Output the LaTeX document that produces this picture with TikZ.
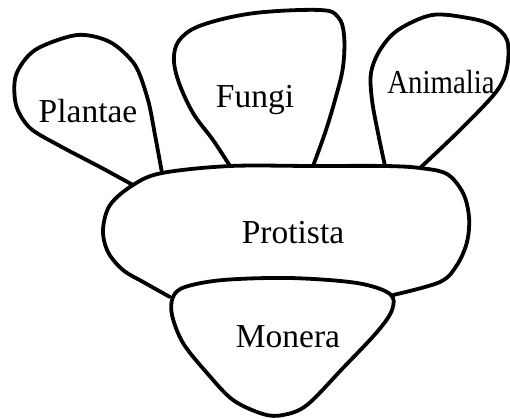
\documentclass[tikz,border=0pt]{standalone}
\usepackage{fontspec}
\setmainfont{Liberation Serif}
\usepackage{graphicx}
\tikzset{
  outline/.style={line width=3.8pt, line join=round, line cap=round, black},
  lbl/.style={anchor=base, inner sep=0pt, font=\fontsize{33.5}{36}\selectfont}
}
\begin{document}
\begin{tikzpicture}[x=1pt,y=-1pt]
\useasboundingbox (0,0) rectangle (510,418);
% Plantae
\draw[outline] plot[smooth, tension=0.5] coordinates {(133,185) (100,167) (60,146) (30,128) (16,105) (16,75) (35,50) (77,35) (110,42) (135,65) (148,100) (155,135) (162,173)};
% Fungi
\draw[outline] plot[smooth, tension=0.6] coordinates {(230,166) (213,140) (193,113) (178,80) (174,55) (182,37) (205,24) (255,13) (320,10) (338,17) (344,35) (343,67) (335,100) (325,133) (313,166)};
% Animalia
\draw[outline] plot[smooth, tension=0.55] coordinates {(385,166) (378,133) (372,100) (371,73) (380,50) (398,30) (432,15) (468,18) (492,25) (507,40) (507,68) (496,92) (460,130) (420,168)};
% Protista
\draw[outline] plot[smooth, tension=0.55] coordinates {(170,297) (145,283) (123,270) (108,252) (103,230) (110,205) (133,185) (162,173) (230,166) (313,166) (385,166) (420,168) (447,174) (463,193) (469,217) (467,242) (457,265) (440,282) (393,295)};
% Monera
\draw[outline] plot[smooth cycle, tension=0.55] coordinates {(290,278) (357,283) (390,294) (392,310) (377,332) (343,368) (307,405) (283,415) (263,414) (233,400) (207,373) (183,343) (172,315) (173,297) (185,287) (223,280)};
\node[lbl] (plantae) at (88,122) {Plantae};
\node[lbl] (fungi) at (255,107) {Fungi};
\node[lbl] (animalia) at (441,93) {\scalebox{0.86}[1]{Animalia}};
\node[lbl] (protista) at (293,243) {Protista};
\node[lbl] (monera) at (288,347) {Monera};
\end{tikzpicture}
\end{document}
